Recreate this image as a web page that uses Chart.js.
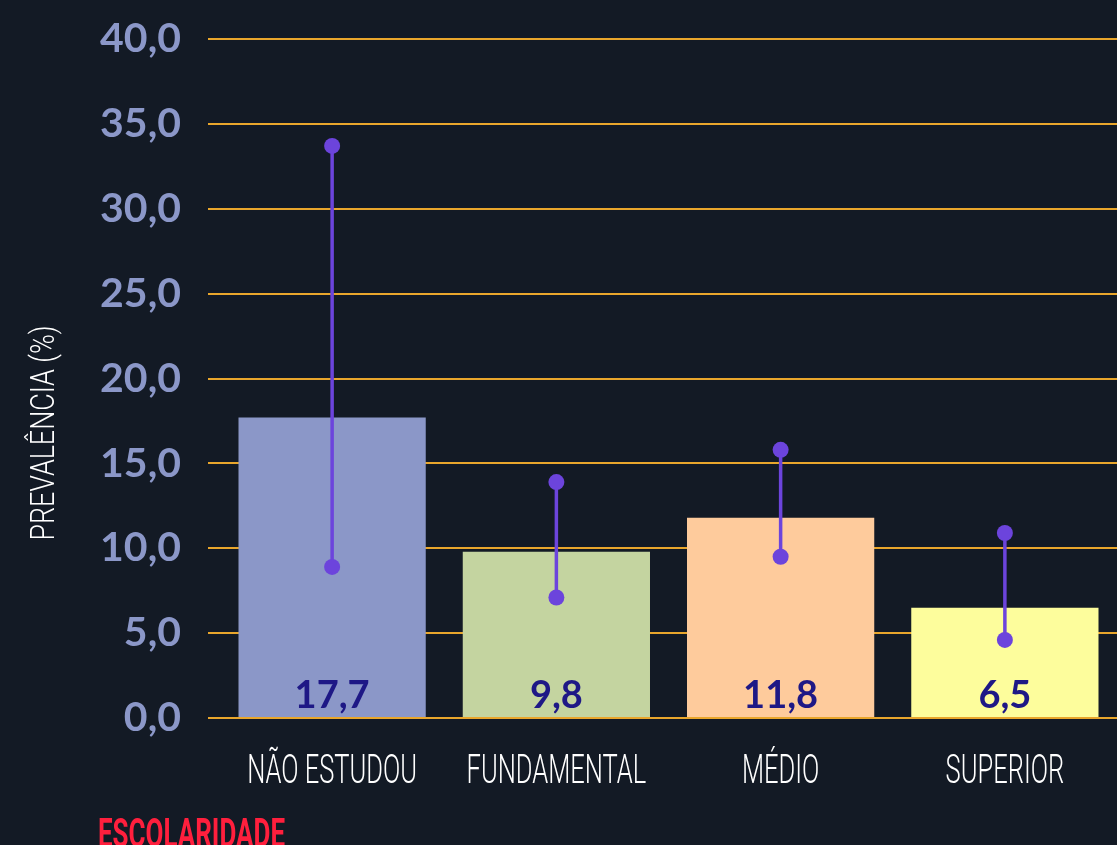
<!DOCTYPE html>
<html>
<head>
<meta charset="utf-8">
<script src="https://cdn.jsdelivr.net/npm/chart.js@4"></script>
<style>
  html, body { margin: 0; padding: 0; background: #131a25; overflow: hidden; }
  #wrap { width: 1117px; height: 845px; position: relative; }
</style>
</head>
<body>
<div id="wrap"><canvas id="myChart"></canvas></div>
<script>
// data
const categories = ["NÃO ESTUDOU", "FUNDAMENTAL", "MÉDIO", "SUPERIOR"];
const prevalence = [17.7, 9.8, 11.8, 6.5];
const ciLower = [8.9, 7.1, 9.5, 4.6];
const ciUpper = [33.7, 13.9, 15.8, 10.9];
const yTicks = [0, 5, 10, 15, 20, 25, 30, 35, 40];

const barColors = ["#8b97c8", "#c4d4a0", "#fecb9c", "#fdfd9c"];
const thinFont = "Roboto, 'DejaVu Sans', sans-serif";
const boldFont = "Lato, 'Open Sans', sans-serif";

const fmt = (v) => v.toFixed(1).replace(".", ",");

// squeeze text horizontally, the original uses a narrow DIN-like face
function narrowText(ctx, text, x, y, sx) {
  ctx.save();
  ctx.translate(x, y);
  ctx.scale(sx, 1);
  ctx.fillText(text, 0, 0);
  ctx.restore();
}

// value labels at the bottom of each bar
const valueLabels = {
  id: "valueLabels",
  afterDatasetsDraw(chart) {
    const ctx = chart.ctx;
    const yScale = chart.scales.y;
    const meta = chart.getDatasetMeta(0);
    ctx.save();
    ctx.fillStyle = "#1e1886";
    ctx.font = "bold 38px " + boldFont;
    ctx.textAlign = "center";
    ctx.textBaseline = "alphabetic";
    meta.data.forEach((bar, i) => {
      ctx.fillText(fmt(prevalence[i]), bar.x, yScale.bottom - 10);
    });
    ctx.restore();
  },
};

// confidence interval lines with dots on both ends
const errorBars = {
  id: "errorBars",
  afterDatasetsDraw(chart) {
    const ctx = chart.ctx;
    const yScale = chart.scales.y;
    const meta = chart.getDatasetMeta(0);
    ctx.save();
    ctx.strokeStyle = "#6c44dc";
    ctx.fillStyle = "#6c44dc";
    ctx.lineWidth = 3.5;
    meta.data.forEach((bar, i) => {
      const yLo = yScale.getPixelForValue(ciLower[i]);
      const yHi = yScale.getPixelForValue(ciUpper[i]);
      ctx.beginPath();
      ctx.moveTo(bar.x, yLo);
      ctx.lineTo(bar.x, yHi);
      ctx.stroke();
      [yLo, yHi].forEach((y) => {
        ctx.beginPath();
        ctx.arc(bar.x, y, 8, 0, Math.PI * 2);
        ctx.fill();
      });
    });
    ctx.restore();
  },
};

// category labels and axis titles in a narrow face
const axisText = {
  id: "axisText",
  afterDraw(chart) {
    const ctx = chart.ctx;
    const xScale = chart.scales.x;

    ctx.save();
    ctx.fillStyle = "#ffffff";
    ctx.font = "300 40px " + thinFont;
    ctx.textAlign = "center";
    ctx.textBaseline = "middle";
    const sx = 170 / ctx.measureText(categories[0]).width;
    categories.forEach((c, i) => {
      narrowText(ctx, c, xScale.getPixelForTick(i), xScale.top + 55, sx);
    });
    ctx.restore();

    ctx.save();
    ctx.fillStyle = "#ffffff";
    ctx.font = "300 33px " + thinFont;
    ctx.textAlign = "center";
    ctx.textBaseline = "middle";
    const ty = "PREVALÊNCIA (%)";
    const sy = 215 / ctx.measureText(ty).width;
    ctx.translate(46, 433);
    ctx.rotate(-Math.PI / 2);
    narrowText(ctx, ty, 0, 0, sy);
    ctx.restore();

    ctx.save();
    ctx.fillStyle = "#ff1f3d";
    ctx.font = "bold 40px " + thinFont;
    ctx.textAlign = "left";
    ctx.textBaseline = "top";
    const tx = "ESCOLARIDADE";
    narrowText(ctx, tx, 98, 817, 187 / ctx.measureText(tx).width);
    ctx.restore();
  },
};

const ctx = document.getElementById("myChart").getContext("2d");
new Chart(ctx, {
  type: "bar",
  data: {
    labels: categories,
    datasets: [
      {
        label: "Prevalência",
        data: prevalence,
        backgroundColor: barColors,
        borderWidth: 0,
        categoryPercentage: 1,
        barPercentage: 0.835,
      },
    ],
  },
  options: {
    responsive: true,
    maintainAspectRatio: false,
    animation: false,
    layout: { padding: { top: 39, right: 0, bottom: 0, left: 0 } },
    plugins: {
      legend: { display: false },
      tooltip: { enabled: false },
    },
    scales: {
      x: {
        grid: { display: false },
        border: { display: false },
        ticks: { display: false },
        afterFit: (scale) => {
          scale.height = 127;
          scale.paddingLeft = 0;
          scale.paddingRight = 0;
        },
      },
      y: {
        min: 0,
        max: 40,
        afterBuildTicks: (scale) => {
          scale.ticks = yTicks.map((v) => ({ value: v }));
        },
        grid: { color: "#e9a62c", lineWidth: 2, tickLength: 12 },
        border: { display: false },
        ticks: {
          color: "#8b97c8",
          font: { family: boldFont, size: 41, weight: "bold" },
          padding: 27,
          callback: (v) => fmt(v),
        },
        afterFit: (scale) => {
          scale.width = 220;
          scale.paddingTop = 0;
          scale.paddingBottom = 0;
        },
      },
    },
  },
  plugins: [valueLabels, errorBars, axisText],
});
</script>
</body>
</html>
